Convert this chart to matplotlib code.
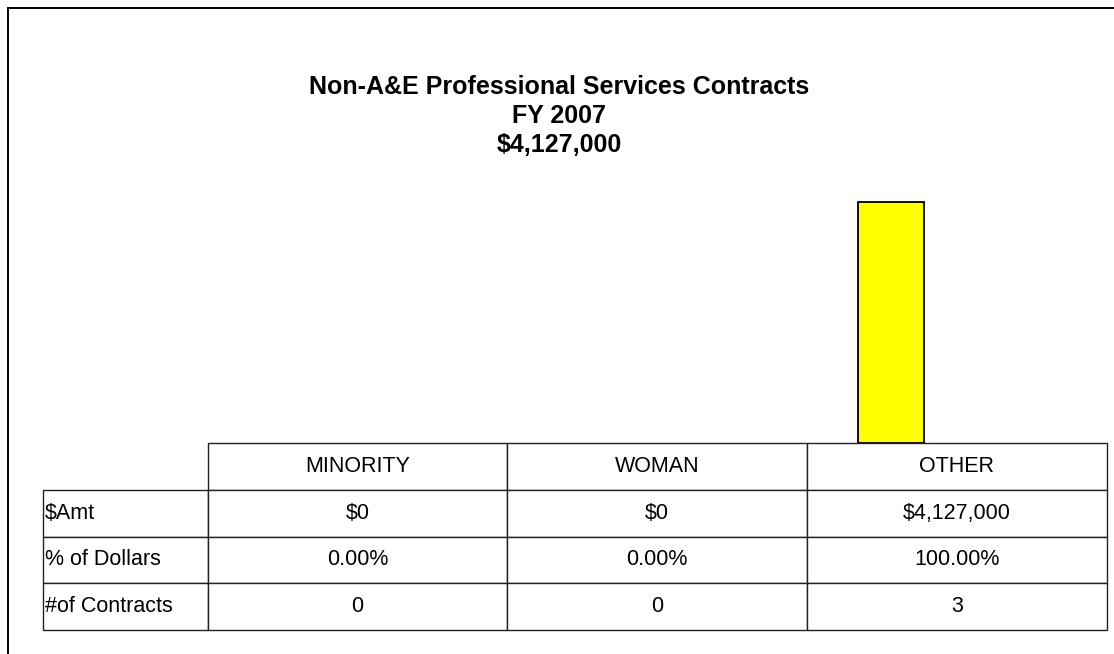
import matplotlib
matplotlib.use('Agg')
import matplotlib.pyplot as plt
from matplotlib.lines import Line2D

plt.rcParams['font.family'] = ['Liberation Sans', 'DejaVu Sans']
plt.rcParams['text.parse_math'] = False

# data
categories = ['MINORITY', 'WOMAN', 'OTHER']
amounts = [0, 0, 4127000]
pct_dollars = [0.0, 0.0, 100.0]
n_contracts = [0, 0, 3]
row_labels = ['$Amt', '% of Dollars', '#of Contracts']
title_lines = ['Non-A&E Professional Services Contracts', 'FY 2007', '$4,127,000']

W, H = 1114, 654
fig = plt.figure(figsize=(W / 100, H / 100), dpi=100)

# plot area: x from 208 to 1107 px, y from 180 to 443 px
ax = fig.add_axes([208 / W, 1 - 443 / H, 899 / W, 263 / H])

x = list(range(len(categories)))
bw = 0.22
bars = ax.bar([i - bw for i in x], amounts, width=bw, color='#FFFF00',
              edgecolor='black', linewidth=1.3, zorder=3)
for b in bars:
    if b.get_height() == 0:
        b.set_visible(False)
ax.set_xlim(-0.5, len(categories) - 0.5)
ax.set_ylim(0, max(amounts) * 263 / 241)
ax.axis('off')

# table under the bars
cell_text = [[''] + categories,
             [row_labels[0]] + ['${:,}'.format(v) for v in amounts],
             [row_labels[1]] + ['{:.2f}%'.format(v) for v in pct_dollars],
             [row_labels[2]] + [str(v) for v in n_contracts]]
tbl = ax.table(cellText=cell_text, colWidths=[165, 299, 300, 300],
               cellLoc='center',
               bbox=[-165 / 899, -187 / 263, 1064 / 899, 187 / 263])
tbl.auto_set_font_size(False)
tbl.set_fontsize(15.5)
for (r, c), cell in tbl.get_celld().items():
    cell.set_edgecolor('#222222')
    cell.set_linewidth(1.0)
    cell.set_facecolor('white')
    if c == 0:
        cell._loc = 'left'
        cell.PAD = 0.012
        cell.get_text().set_ha('left')
tbl[0, 0].visible_edges = 'open'

# title
for k, line in enumerate(title_lines):
    fig.text(559 / W, 1 - (94 + 29 * k) / H, line, ha='center', va='baseline',
             fontsize=18, fontweight='bold')

# outer frame (left and top edges visible)
fig.add_artist(Line2D([8 / W, 8 / W], [0, 1 - 8 / H], color='black', lw=1.4,
                      transform=fig.transFigure))
fig.add_artist(Line2D([8 / W, 1], [1 - 8 / H, 1 - 8 / H], color='black', lw=1.4,
                      transform=fig.transFigure))

fig.savefig('out.png', dpi=100, facecolor='white')
